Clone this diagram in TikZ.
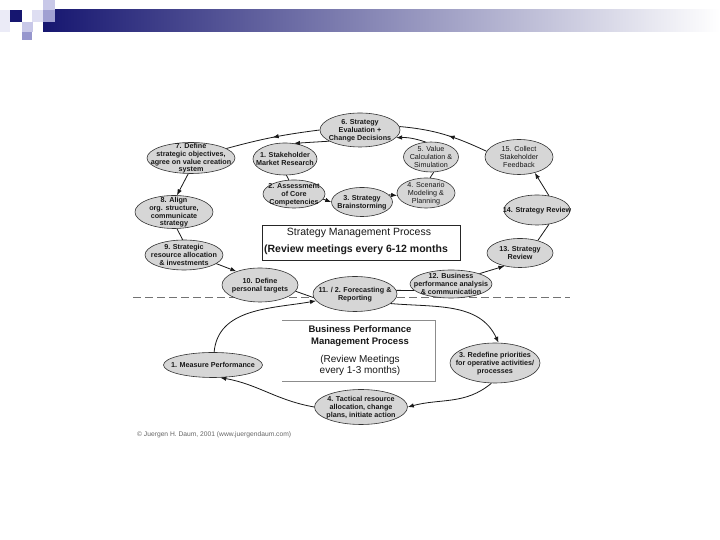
\documentclass[tikz,border=0pt]{standalone}
\usepackage{fontspec}
\setmainfont{Liberation Sans}
\usetikzlibrary{shapes.geometric,arrows.meta,decorations.markings}
\newcommand\etxt[1]{\smash{\makebox[0pt]{\raisebox{-2.4pt}{\begin{tabular}{@{}c@{}}#1\end{tabular}}}}}
\definecolor{navy}{RGB}{22,22,112}
\definecolor{lavA}{RGB}{200,200,232}
\definecolor{lavB}{RGB}{222,222,242}
\definecolor{lavC}{RGB}{160,160,210}
\definecolor{lavD}{RGB}{150,150,205}
\definecolor{elfill}{RGB}{214,214,214}
\begin{document}
\begin{tikzpicture}[x=1pt,y=1pt,
  el/.style={ellipse, draw=black!80, fill=elfill, line width=0.6pt, inner sep=0pt, text=black!90, font=\fontsize{7.2}{7.8}\selectfont\bfseries},
  lt/.style={font=\fontsize{7.2}{7.8}\selectfont},
  sz/.style 2 args={minimum width=#1pt, minimum height=#2pt},
  conn/.style={draw=black!90, line width=0.8pt},
  arr/.style={conn, -{Latex[length=6pt,width=4.5pt]}},
  midarr/.style={conn, postaction={decorate}, decoration={markings, mark=at position #1 with {\arrow{Latex[length=6pt,width=4.5pt]}}}},
  boxtxt/.style={inner sep=0pt, text=black!90}
]
\useasboundingbox (0,0) rectangle (720,540);
\fill[white] (0,0) rectangle (720,540);

% header decoration
\shade[left color=navy, right color=white] (43,508) rectangle (720,530);
\fill[lavB!60!white] (0,508) rectangle (10,530);
\fill[navy] (10,518) rectangle (22,530);
\fill[lavA] (43,530) rectangle (55,540);
\fill[lavB] (32,518) rectangle (43,530);
\fill[lavC] (43,518) rectangle (55,530);
\fill[lavA] (22,508) rectangle (33,518);
\fill[lavD] (22,500) rectangle (32,508);

% dashed separator
\draw[black!55, line width=0.7pt, dash pattern=on 8pt off 4pt] (133,243) -- (570,243);

% boxes
\node[draw=black!85, line width=0.6pt, minimum width=198pt, minimum height=35pt, inner sep=0pt] (smp) at (361,297.5) {};
\node[boxtxt, font=\fontsize{10.5}{12}\selectfont] (smp1) at (359,307) {Strategy Management Process};
\node[boxtxt, font=\fontsize{10.5}{12}\selectfont\bfseries] (smp2) at (356,290) {(Review meetings every 6-12 months};

\coordinate (bpA) at (282,220);
\coordinate (bpB) at (435,220);
\coordinate (bpC) at (435,159);
\coordinate (bpD) at (282,159);
\draw[black!45, line width=0.6pt] (bpA) -- (bpB) -- (bpC) -- (bpD);
\node[boxtxt, font=\fontsize{9.5}{11}\selectfont\bfseries] (bp1) at (360,211) {Business Performance};
\node[boxtxt, font=\fontsize{9.5}{11}\selectfont\bfseries] (bp2) at (360,198) {Management Process};
\node[boxtxt, font=\fontsize{10}{11}\selectfont] (bp3) at (360,180) {(Review Meetings};
\node[boxtxt, font=\fontsize{10}{11}\selectfont] (bp4) at (360,169) {every 1-3 months)};

% upper cycle ellipses
\node[el, sz={80}{34}] (n6) at (360,410) {\etxt{6. Strategy\\Evaluation +\\Change Decisions}};
\node[el, sz={88}{31}] (n7) at (191,382) {\etxt{7. Define\\strategic objectives,\\agree on value creation\\system}};
\node[el, sz={64}{32}] (n1) at (285,381) {\etxt{1. Stakeholder\\Market Research}};
\node[el, lt, sz={55}{30}] (n5) at (431,383) {\etxt{5. Value\\Calculation \&\\Simulation}};
\node[el, lt, sz={68}{35}] (n15) at (519,383) {\etxt{15. Collect\\Stakeholder\\Feedback}};
\node[el, sz={62}{28}] (n2) at (294,346) {\etxt{2. Assessment\\of Core\\Competencies}};
\node[el, sz={78}{33}] (n8) at (174,328) {\etxt{8. Align\\org. structure,\\communicate\\strategy}};
\node[el, lt, sz={58}{30}] (n4) at (426,347) {\etxt{4. Scenario\\Modeling \&\\Planning}};
\node[el, sz={61}{29}] (n3) at (362,338) {\etxt{3. Strategy\\Brainstorming}};
\node[el, sz={66}{30}] (n14) at (537,330) {\etxt{14. Strategy Review}};
\node[el, sz={78}{30}] (n9) at (184,285) {\etxt{9. Strategic\\resource allocation\\\& investments}};
\node[el, sz={66}{29}] (n13) at (520,287) {\etxt{13. Strategy\\Review}};
\node[el, sz={76}{34}] (n10) at (260,255) {\etxt{10. Define\\personal targets}};
\node[el, sz={84}{35}] (n11) at (355,246) {\etxt{11. / 2. Forecasting \&\\Reporting}};
\node[el, sz={82}{28}] (n12) at (451,256) {\etxt{12. Business\\performance analysis\\\& communication}};

% lower cycle ellipses
\node[el, sz={99}{25}] (nM1) at (213,175) {\etxt{1. Measure Performance}};
\node[el, sz={90}{40}] (n3b) at (495,177) {\etxt{3. Redefine priorities\\for operative activities/\\processes}};
\node[el, sz={93}{35}] (n4b) at (361,133) {\etxt{4. Tactical resource\\allocation, change\\plans, initiate action}};

% upper connectors
\draw[midarr=0.45] (n15.170) to[out=155,in=-5] (n6.5);
\draw[arr] (n5.110) to[bend right=10] (n6.-12);
\draw[arr] (n6.200) -- (n1.60);
\draw[midarr=0.5] (n6.west) to[bend right=4] (n7.15);
\draw[arr] (n7.260) -- (n8.80);
\draw[conn] (n8.-80) -- (n9.95);
\draw[arr] (n9.-15) -- (n10.150);
\draw[conn] (n10.-10) -- (n11.185);
\draw[conn] (n11.5) -- (n12.190);
\draw[arr] (n12.20) -- (n13.220);
\draw[conn] (n13.35) -- (n14.-50);
\draw[arr] (n14.50) -- (n15.-45);
\draw[conn] (n1.-85) -- (n2.110);
\draw[arr] (n2.-10) -- (n3.180);
\draw[arr] (n3.15) -- (n4.185);
\draw[conn] (n4.75) -- (n5.-80);

% lower connectors
\draw[arr] (nM1.85) to[out=85,in=190] (n11.190);
\draw[arr] (n11.-15) to[out=-5,in=115] (n3b.80);
\draw[arr] (n3b.-100) to[out=220,in=15] (n4b.east);
\draw[arr] (n4b.west) to[out=170,in=-10] (nM1.-60);

% copyright
\node[anchor=west, inner sep=0pt, text=black!60, font=\fontsize{6.7}{8}\selectfont] (copy) at (137,105) {© Juergen H. Daum, 2001 (www.juergendaum.com)};
\end{tikzpicture}
\end{document}
